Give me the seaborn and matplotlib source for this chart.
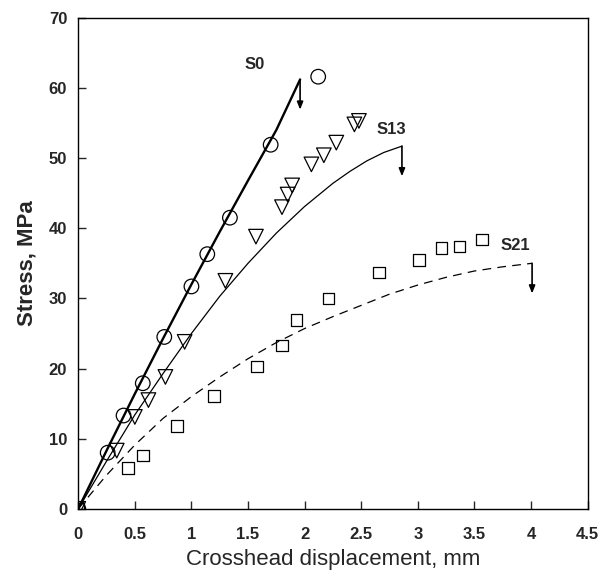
import matplotlib
matplotlib.use("Agg")
import matplotlib.pyplot as plt
import seaborn as sns

s0_x = [0.0, 0.26, 0.40, 0.57, 0.76, 1.00, 1.14, 1.34, 1.70, 2.12]
s0_y = [0.0, 8.0, 13.3, 17.9, 24.5, 31.7, 36.3, 41.5, 51.9, 61.6]

s13_x = [0.0, 0.34, 0.50, 0.62, 0.77, 0.94, 1.30, 1.57, 1.80, 1.85, 1.89, 2.06, 2.17, 2.28, 2.44, 2.48]
s13_y = [0.0, 8.3, 13.1, 15.5, 18.8, 23.8, 32.5, 38.8, 43.0, 44.8, 46.1, 49.1, 50.4, 52.2, 54.8, 55.3]

s21_x = [0.0, 0.44, 0.57, 0.87, 1.20, 1.58, 1.80, 1.93, 2.21, 2.66, 3.01, 3.21, 3.37, 3.57]
s21_y = [0.0, 5.8, 7.6, 11.8, 16.1, 20.3, 23.3, 26.9, 30.0, 33.7, 35.5, 37.2, 37.4, 38.4]

# ---- model curves ----
s0_line_x = [0.0, 0.25, 0.5, 0.75, 1.0, 1.25, 1.5, 1.75, 1.96]
s0_line_y = [0.0, 8.3, 16.4, 24.3, 32.0, 39.5, 46.8, 54.0, 61.2]

s13_line_x = [0.0, 0.25, 0.5, 0.75, 1.0, 1.25, 1.5, 1.75, 2.0, 2.25, 2.4, 2.55, 2.7, 2.86]
s13_line_y = [0.0, 6.8, 13.4, 19.3, 25.0, 30.3, 35.0, 39.3, 43.1, 46.4, 48.1, 49.6, 50.8, 51.7]

s21_line_x = [0.0, 0.25, 0.5, 0.75, 1.0, 1.25, 1.5, 1.75, 2.0, 2.25, 2.5, 2.75, 3.0, 3.25, 3.5, 3.75, 4.01]
s21_line_y = [0.0, 4.8, 9.1, 12.9, 16.0, 18.8, 21.4, 23.7, 25.7, 27.4, 29.0, 30.6, 31.9, 33.0, 33.9, 34.5, 35.0]

series_labels = ["S0", "S13", "S21"]
label_pos_x = [1.56, 2.77, 3.86]
label_pos_y = [63.3, 54.1, 37.5]

x_ticks = [0, 0.5, 1, 1.5, 2, 2.5, 3, 3.5, 4, 4.5]
x_tick_labels = ["0", "0.5", "1", "1.5", "2", "2.5", "3", "3.5", "4", "4.5"]
y_ticks = [0, 10, 20, 30, 40, 50, 60, 70]
y_tick_labels = ["0", "10", "20", "30", "40", "50", "60", "70"]

sns.set_style("ticks")
plt.rcParams["font.family"] = ["Liberation Sans", "DejaVu Sans"]

fig = plt.figure(figsize=(6.02, 5.73), dpi=100)
ax = fig.add_axes([0.13, 0.112, 0.846, 0.857])

# curves
sns.lineplot(x=s0_line_x, y=s0_line_y, ax=ax, color="black", lw=1.7, sort=False)
sns.lineplot(x=s13_line_x, y=s13_line_y, ax=ax, color="black", lw=0.9, sort=False)
sns.lineplot(x=s21_line_x, y=s21_line_y, ax=ax, color="black", lw=0.9, sort=False,
             linestyle=(0, (7, 5)))

# markers
sns.scatterplot(x=s0_x, y=s0_y, ax=ax, marker="o", s=110, facecolor="none",
                edgecolor="black", linewidth=0.9, zorder=5)
sns.scatterplot(x=s13_x, y=s13_y, ax=ax, marker="v", s=110, facecolor="none",
                edgecolor="black", linewidth=0.9, zorder=5)
sns.scatterplot(x=s21_x, y=s21_y, ax=ax, marker="s", s=70, facecolor="none",
                edgecolor="black", linewidth=0.9, zorder=5)

# failure arrows at end of each curve
for lx, ly in [(s0_line_x, s0_line_y), (s13_line_x, s13_line_y), (s21_line_x, s21_line_y)]:
    xe, ye = lx[-1], ly[-1]
    ax.annotate("", xy=(xe, ye - 4.3), xytext=(xe, ye),
                arrowprops=dict(arrowstyle="-|>,head_length=0.45,head_width=0.18",
                                color="black", lw=1.2, shrinkA=0, shrinkB=0))

for lab, tx, ty in zip(series_labels, label_pos_x, label_pos_y):
    ax.text(tx, ty, lab, fontsize=12, fontweight="bold", ha="center", va="center")

ax.set_xlim(0, 4.5)
ax.set_ylim(0, 70)
ax.set_xticks(x_ticks)
ax.set_xticklabels(x_tick_labels)
ax.set_yticks(y_ticks)
ax.set_yticklabels(y_tick_labels)
ax.tick_params(direction="in", length=6, width=1, labelsize=12,
               top=False, right=False)
ax.tick_params(axis="x", pad=13)
ax.tick_params(axis="y", pad=8)
for lab in ax.get_xticklabels() + ax.get_yticklabels():
    lab.set_fontweight("bold")
for sp in ax.spines.values():
    sp.set_visible(True)
    sp.set_linewidth(1.0)
    sp.set_color("black")

ax.set_xlabel("Crosshead displacement, mm", fontsize=16, labelpad=5)
ax.set_ylabel("Stress, MPa", fontsize=16, fontweight="bold", labelpad=8)

fig.savefig("out.png", dpi=100, facecolor="white")
